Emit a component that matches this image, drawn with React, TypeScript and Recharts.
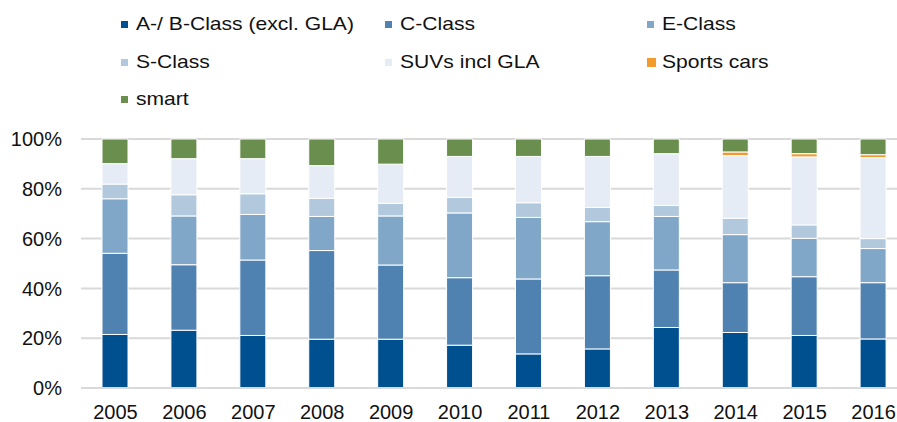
import { BarChart, Bar, XAxis, YAxis, CartesianGrid } from "recharts";

const years = ["2005", "2006", "2007", "2008", "2009", "2010", "2011", "2012", "2013", "2014", "2015", "2016"];

const abClass = [21.5, 23.2, 21.1, 19.6, 19.6, 17.2, 13.7, 15.7, 24.3, 22.3, 21.1, 19.7];
const cClass = [32.6, 26.3, 30.3, 35.6, 29.8, 27.1, 30.1, 29.4, 23.1, 20.0, 23.6, 22.6];
const eClass = [21.9, 19.6, 18.3, 13.7, 19.7, 26.0, 24.7, 21.7, 21.5, 19.3, 15.4, 13.7];
const sClass = [5.9, 8.5, 8.3, 7.3, 5.1, 6.3, 5.9, 5.7, 4.4, 6.6, 5.4, 4.0];
const suvs = [8.2, 14.5, 14.1, 13.1, 15.7, 16.4, 18.6, 20.5, 20.8, 25.1, 27.3, 32.5];
const sportsCars = [0, 0, 0, 0, 0, 0, 0, 0, 0, 1.5, 1.3, 1.2];
const smart = [9.9, 7.9, 7.9, 10.7, 10.1, 7.0, 7.0, 7.0, 5.9, 5.2, 5.9, 6.3];

const yTicks = [0, 20, 40, 60, 80, 100];

const series = [
  { key: "ab", name: "A-/ B-Class (excl. GLA)", color: "#004f8f", values: abClass },
  { key: "c", name: "C-Class", color: "#4f81b1", values: cClass },
  { key: "e", name: "E-Class", color: "#80a6c8", values: eClass },
  { key: "s", name: "S-Class", color: "#b2c8dd", values: sClass },
  { key: "suv", name: "SUVs incl GLA", color: "#e5ecf5", values: suvs },
  { key: "sports", name: "Sports cars", color: "#f39a2c", values: sportsCars },
  { key: "smart", name: "smart", color: "#6a8e4e", values: smart },
];

const data = years.map((year, i) => {
  const row: Record<string, string | number> = { year };
  series.forEach((s) => {
    row[s.key] = s.values[i];
  });
  return row;
});

// legend grid: 3 columns, 3 rows (page coordinates)
const legendCols = [121, 385, 647];
const legendRows = [24, 62, 99];

const font = "'Liberation Sans', Arial, sans-serif";

const Legend = () => (
  <div style={{ position: "absolute", left: 0, top: 0, width: 897, height: 120 }}>
    {series.map((s, i) => {
      const col = i % 3;
      const row = Math.floor(i / 3);
      const box = s.key === "sports" ? 9 : 7;
      return (
        <div
          key={s.key}
          style={{
            position: "absolute",
            left: legendCols[col],
            top: legendRows[row] - 12,
            height: 24,
            display: "flex",
            alignItems: "center",
            whiteSpace: "nowrap",
          }}
        >
          <div style={{ width: 12, display: "flex", alignItems: "center" }}>
            <span style={{ width: box, height: box, background: s.color, display: "inline-block" }} />
          </div>
          <span
            style={{
              fontFamily: font,
              fontSize: 18.5,
              color: "#111",
              marginLeft: 3,
              display: "inline-block",
              transform: "scaleX(1.14)",
              transformOrigin: "left center",
            }}
          >
            {s.name}
          </span>
        </div>
      );
    })}
  </div>
);

const App = () => {
  return (
    <div style={{ position: "relative", width: 897, height: 422, overflow: "hidden" }}>
      <style>{"body { margin: 0; }"}</style>
      <Legend />
      <BarChart
        width={918}
        height={422}
        data={data}
        margin={{ top: 139, right: 10, bottom: 4, left: 8 }}
        barSize={26}
      >
        <CartesianGrid vertical={false} stroke="#d9d9d9" strokeWidth={2} />
        <XAxis
          dataKey="year"
          height={30}
          tickLine={false}
          tickSize={0}
          tickMargin={17}
          axisLine={{ stroke: "#d9d9d9", strokeWidth: 2 }}
          tick={{ fill: "#111", fontSize: 20, fontFamily: font }}
          interval={0}
        />
        <YAxis
          width={73}
          domain={[0, 100]}
          ticks={yTicks}
          tickFormatter={(v: number) => `${v}%`}
          axisLine={false}
          tickLine={false}
          tickSize={0}
          tickMargin={19}
          tick={{ fill: "#111", fontSize: 20, fontFamily: font }}
        />
        {series.map((s) => (
          <Bar
            key={s.key}
            dataKey={s.key}
            name={s.name}
            stackId="mix"
            fill={s.color}
            stroke="#ffffff"
            strokeWidth={1}
            isAnimationActive={false}
          />
        ))}
      </BarChart>
    </div>
  );
};

export default App;
